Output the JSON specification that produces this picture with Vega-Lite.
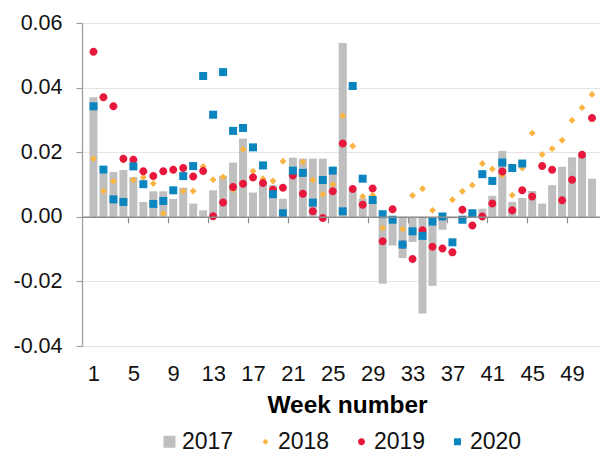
{
  "$schema": "https://vega.github.io/schema/vega-lite/v6.json",
  "autosize": {"type": "none"},
  "padding": {"left": 82, "top": 23, "right": 0, "bottom": 104},
  "width": 518,
  "height": 323,
  "background": "white",
  "config": {"view": {"stroke": null}, "font": "Liberation Sans"},
  "datasets": {
    "weekly": [
      {"week":1,"year":"2017","value":0.037},{"week":2,"year":"2017","value":0.0134},{"week":3,"year":"2017","value":0.0139},{"week":4,"year":"2017","value":0.0145},{"week":5,"year":"2017","value":0.0123},{"week":6,"year":"2017","value":0.0046},{"week":7,"year":"2017","value":0.0079},{"week":8,"year":"2017","value":0.0079},{"week":9,"year":"2017","value":0.0055},{"week":10,"year":"2017","value":0.009},
      {"week":11,"year":"2017","value":0.0041},{"week":12,"year":"2017","value":0.002},{"week":13,"year":"2017","value":0.0082},{"week":14,"year":"2017","value":0.0127},{"week":15,"year":"2017","value":0.0168},{"week":16,"year":"2017","value":0.0242},{"week":17,"year":"2017","value":0.0075},{"week":18,"year":"2017","value":0.0103},{"week":19,"year":"2017","value":0.0098},{"week":20,"year":"2017","value":0.0056},
      {"week":21,"year":"2017","value":0.0183},{"week":22,"year":"2017","value":0.018},{"week":23,"year":"2017","value":0.018},{"week":24,"year":"2017","value":0.018},{"week":25,"year":"2017","value":0.0154},{"week":26,"year":"2017","value":0.0538},{"week":27,"year":"2017","value":0.008},{"week":28,"year":"2017","value":0.0057},{"week":29,"year":"2017","value":0.0046},{"week":30,"year":"2017","value":-0.0207},
      {"week":31,"year":"2017","value":-0.0089},{"week":32,"year":"2017","value":-0.0128},{"week":33,"year":"2017","value":-0.0078},{"week":34,"year":"2017","value":-0.0299},{"week":35,"year":"2017","value":-0.0214},{"week":36,"year":"2017","value":-0.004},{"week":37,"year":"2017","value":-0.0005},{"week":38,"year":"2017","value":-0.001},{"week":39,"year":"2017","value":0.0012},{"week":40,"year":"2017","value":0.0025},
      {"week":41,"year":"2017","value":0.0065},{"week":42,"year":"2017","value":0.0204},{"week":43,"year":"2017","value":0.0046},{"week":44,"year":"2017","value":0.0058},{"week":45,"year":"2017","value":0.008},{"week":46,"year":"2017","value":0.0041},{"week":47,"year":"2017","value":0.0098},{"week":48,"year":"2017","value":0.0155},{"week":49,"year":"2017","value":0.0184},{"week":50,"year":"2017","value":0.019},{"week":51,"year":"2017","value":0.0118},

      {"week":1,"year":"2018","value":0.018},{"week":2,"year":"2018","value":0.008},{"week":3,"year":"2018","value":0.011},{"week":4,"year":"2018","value":0.0175},{"week":5,"year":"2018","value":0.0114},{"week":6,"year":"2018","value":0.0122},{"week":7,"year":"2018","value":0.0103},{"week":8,"year":"2018","value":0.001},{"week":9,"year":"2018","value":0.0145},{"week":10,"year":"2018","value":0.008},
      {"week":11,"year":"2018","value":0.008},{"week":12,"year":"2018","value":0.0156},{"week":13,"year":"2018","value":0.0115},{"week":14,"year":"2018","value":0.0123},{"week":15,"year":"2018","value":0.0084},{"week":16,"year":"2018","value":0.0209},{"week":17,"year":"2018","value":0.0141},{"week":18,"year":"2018","value":0.0118},{"week":19,"year":"2018","value":0.0111},{"week":20,"year":"2018","value":0.0172},
      {"week":21,"year":"2018","value":0.0135},{"week":22,"year":"2018","value":0.017},{"week":23,"year":"2018","value":0.0114},{"week":24,"year":"2018","value":0.007},{"week":25,"year":"2018","value":0.01},{"week":26,"year":"2018","value":0.0313},{"week":27,"year":"2018","value":0.0219},{"week":28,"year":"2018","value":0.0063},{"week":29,"year":"2018","value":0.0067},{"week":30,"year":"2018","value":-0.0035},
      {"week":31,"year":"2018","value":0.0022},{"week":32,"year":"2018","value":-0.0038},{"week":33,"year":"2018","value":0.0066},{"week":34,"year":"2018","value":0.0087},{"week":35,"year":"2018","value":0.002},{"week":36,"year":"2018","value":0.0002},{"week":37,"year":"2018","value":0.0053},{"week":38,"year":"2018","value":0.0079},{"week":39,"year":"2018","value":0.0098},{"week":40,"year":"2018","value":0.0165},
      {"week":41,"year":"2018","value":0.0148},{"week":42,"year":"2018","value":0.0129},{"week":43,"year":"2018","value":0.0067},{"week":44,"year":"2018","value":0.0151},{"week":45,"year":"2018","value":0.0259},{"week":46,"year":"2018","value":0.0193},{"week":47,"year":"2018","value":0.0211},{"week":48,"year":"2018","value":0.0237},{"week":49,"year":"2018","value":0.0299},{"week":50,"year":"2018","value":0.0338},{"week":51,"year":"2018","value":0.0379},

      {"week":1,"year":"2019","value":0.0511},{"week":2,"year":"2019","value":0.037},{"week":3,"year":"2019","value":0.0342},{"week":4,"year":"2019","value":0.018},{"week":5,"year":"2019","value":0.0177},{"week":6,"year":"2019","value":0.0141},{"week":7,"year":"2019","value":0.0126},{"week":8,"year":"2019","value":0.0141},{"week":9,"year":"2019","value":0.0146},{"week":10,"year":"2019","value":0.0151},
      {"week":11,"year":"2019","value":0.0125},{"week":12,"year":"2019","value":0.0142},{"week":13,"year":"2019","value":0.0002},{"week":14,"year":"2019","value":0.0044},{"week":15,"year":"2019","value":0.0092},{"week":16,"year":"2019","value":0.0102},{"week":17,"year":"2019","value":0.0122},{"week":18,"year":"2019","value":0.0105},{"week":19,"year":"2019","value":0.0084},{"week":20,"year":"2019","value":0.009},
      {"week":21,"year":"2019","value":0.0128},{"week":22,"year":"2019","value":0.0071},{"week":23,"year":"2019","value":0.0017},{"week":24,"year":"2019","value":-0.0004},{"week":25,"year":"2019","value":0.0079},{"week":26,"year":"2019","value":0.0227},{"week":27,"year":"2019","value":0.0086},{"week":28,"year":"2019","value":0.0037},{"week":29,"year":"2019","value":0.0088},{"week":30,"year":"2019","value":-0.0076},
      {"week":31,"year":"2019","value":0.0023},{"week":32,"year":"2019","value":-0.0086},{"week":33,"year":"2019","value":-0.0131},{"week":34,"year":"2019","value":-0.0042},{"week":35,"year":"2019","value":-0.0093},{"week":36,"year":"2019","value":-0.0098},{"week":37,"year":"2019","value":-0.011},{"week":38,"year":"2019","value":0.0022},{"week":39,"year":"2019","value":-0.0027},{"week":40,"year":"2019","value":0.0001},
      {"week":41,"year":"2019","value":0.0041},{"week":42,"year":"2019","value":0.014},{"week":43,"year":"2019","value":0.002},{"week":44,"year":"2019","value":0.0082},{"week":45,"year":"2019","value":0.0063},{"week":46,"year":"2019","value":0.0157},{"week":47,"year":"2019","value":0.0146},{"week":48,"year":"2019","value":0.0051},{"week":49,"year":"2019","value":0.0115},{"week":50,"year":"2019","value":0.0192},{"week":51,"year":"2019","value":0.0306},

      {"week":1,"year":"2020","value":0.0342},{"week":2,"year":"2020","value":0.0146},{"week":3,"year":"2020","value":0.0054},{"week":4,"year":"2020","value":0.0046},{"week":5,"year":"2020","value":0.0156},{"week":6,"year":"2020","value":0.0101},{"week":7,"year":"2020","value":0.004},{"week":8,"year":"2020","value":0.0049},{"week":9,"year":"2020","value":0.0082},{"week":10,"year":"2020","value":0.0126},
      {"week":11,"year":"2020","value":0.0157},{"week":12,"year":"2020","value":0.0436},{"week":13,"year":"2020","value":0.0316},{"week":14,"year":"2020","value":0.0448},{"week":15,"year":"2020","value":0.0266},{"week":16,"year":"2020","value":0.0275},{"week":17,"year":"2020","value":0.0215},{"week":18,"year":"2020","value":0.0159},{"week":19,"year":"2020","value":0.007},{"week":20,"year":"2020","value":0.0011},
      {"week":21,"year":"2020","value":0.0143},{"week":22,"year":"2020","value":0.0136},{"week":23,"year":"2020","value":0.0044},{"week":24,"year":"2020","value":0.0114},{"week":25,"year":"2020","value":0.0143},{"week":26,"year":"2020","value":0.0017},{"week":27,"year":"2020","value":0.0405},{"week":28,"year":"2020","value":0.0118},{"week":29,"year":"2020","value":0.0052},{"week":30,"year":"2020","value":0.0008},
      {"week":31,"year":"2020","value":-0.0009},{"week":32,"year":"2020","value":-0.0086},{"week":33,"year":"2020","value":-0.0045},{"week":34,"year":"2020","value":-0.0059},{"week":35,"year":"2020","value":-0.0015},{"week":36,"year":"2020","value":0.0001},{"week":37,"year":"2020","value":-0.0079},{"week":38,"year":"2020","value":-0.0009},{"week":39,"year":"2020","value":0.0011},{"week":40,"year":"2020","value":0.0132},
      {"week":41,"year":"2020","value":0.0111},{"week":42,"year":"2020","value":0.0168},{"week":43,"year":"2020","value":0.0151},{"week":44,"year":"2020","value":0.0165}
    ]
  },
  "data": {"name": "weekly"},
  "encoding": {
    "y": {
      "field": "value",
      "type": "quantitative",
      "scale": {"domain": [-0.04, 0.06], "nice": false, "zero": false},
      "axis": {
        "title": null,
        "values": [-0.04, -0.02, 0, 0.02, 0.04, 0.06],
        "labelExpr": "datum.value < 0 ? '-' + format(-datum.value, '.2f') : format(datum.value, '.2f')",
        "labelFontSize": 21.5,
        "labelColor": "#111111",
        "labelPadding": 14,
        "tickSize": 6,
        "tickColor": "#a0a0a0",
        "tickWidth": 1.2,
        "domainColor": "#a0a0a0",
        "domainWidth": 1.3,
        "grid": true,
        "gridColor": "#e4e4e4",
        "gridWidth": 1
      }
    },
    "color": {
      "field": "year",
      "type": "nominal",
      "scale": {
        "domain": ["2017", "2018", "2019", "2020"],
        "range": ["#bfbfbf", "#fab443", "#e8173c", "#0b85c0"]
      },
      "legend": {
        "title": null,
        "orient": "none",
        "direction": "horizontal",
        "legendX": 76,
        "legendY": 407,
        "labelFontSize": 23,
        "labelColor": "#111111",
        "labelLimit": 400,
        "symbolSize": 144,
        "symbolStrokeWidth": 0,
        "labelOffset": 1,
        "columnPadding": 20,
        "padding": 0
      }
    }
  },
  "layer": [
    {
      "transform": [{"filter": "datum.year == '2017'"}],
      "mark": {"type": "bar", "size": 8, "clip": true},
      "encoding": {
        "x": {
          "field": "week",
          "type": "quantitative",
          "scale": {"domain": [0.35, 51.3], "nice": false, "zero": false},
          "axis": {
            "orient": "bottom",
            "offset": -129.2,
            "values": [4.5, 8.5, 12.5, 16.5, 20.5, 24.5, 28.5, 32.5, 36.5, 40.5, 44.5, 48.5],
            "labels": false,
            "grid": false,
            "title": null,
            "domainColor": "#8c8c8c",
            "domainWidth": 1.6,
            "tickColor": "#8c8c8c",
            "tickSize": 6,
            "tickWidth": 1.2,
            "zindex": 1
          }
        }
      }
    },
    {
      "transform": [{"filter": "datum.year != '2017'"}],
      "mark": {"type": "point", "filled": true, "opacity": 1, "size": 190, "strokeWidth": 0},
      "encoding": {
        "x": {
          "field": "week",
          "type": "quantitative",
          "axis": {
            "orient": "bottom",
            "values": [1, 5, 9, 13, 17, 21, 25, 29, 33, 37, 41, 45, 49],
            "domain": false,
            "ticks": false,
            "grid": false,
            "labelPadding": 17,
            "labelFontSize": 22,
            "labelColor": "#111111",
            "labelFlush": false,
            "labelOverlap": false,
            "title": "Week number",
            "titleFontSize": 24.5,
            "titleFontWeight": "bold",
            "titleColor": "#000000",
            "titlePadding": 9,
            "titleX": 265
          }
        },
        "shape": {
          "field": "year",
          "type": "nominal",
          "scale": {
            "domain": ["2017", "2018", "2019", "2020"],
            "range": [
              "M-1,-1H1V1H-1Z",
              "M0,-0.5L0.5,0L0,0.5L-0.5,0Z",
              "M0.58,0A0.58,0.58,0,1,1,-0.58,0A0.58,0.58,0,1,1,0.58,0Z",
              "M-0.58,-0.58H0.58V0.58H-0.58Z"
            ]
          }
        }
      }
    }
  ],
  "resolve": {"axis": {"x": "independent"}}
}
